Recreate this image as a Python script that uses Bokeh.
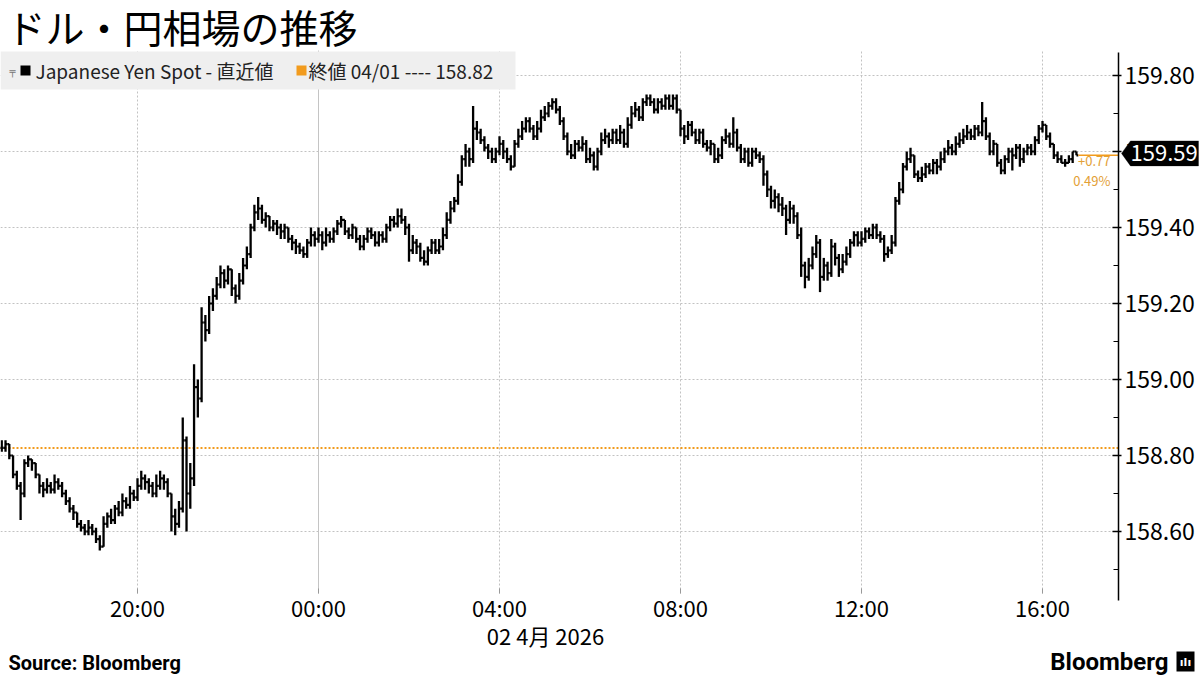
import pandas as pd
from bokeh.plotting import figure
from bokeh.models import (Range1d, Label, BoxAnnotation, PolyAnnotation,
                          FixedTicker, SingleIntervalTicker, NumeralTickFormatter)
from bokeh.embed import file_html
from bokeh.resources import INLINE

# ---------------- data ----------------
title_text = "ドル・円相場の推移"
series_name = "Japanese Yen Spot - 直近値"
prev_close_label = "終値 04/01 ---- 158.82"
prev_close = 158.82
change_label = "+0.77"
change_pct_label = "0.49%"
bar_start = "2026-04-01 17:00"
bar_freq = "5min"

close = [
    158.82, 158.83, 158.80, 158.75, 158.72, 158.70, 158.78, 158.79, 158.78, 158.75, 158.72, 158.71,
    158.72, 158.71, 158.73, 158.72, 158.70, 158.68, 158.66, 158.65, 158.62, 158.61, 158.60, 158.61,
    158.60, 158.58, 158.56, 158.62, 158.64, 158.63, 158.66, 158.65, 158.68, 158.67, 158.70, 158.69,
    158.72, 158.74, 158.73, 158.72, 158.70, 158.72, 158.74, 158.73, 158.70, 158.64, 158.62, 158.66,
    158.84, 158.70, 158.74, 158.98, 158.95, 159.15, 159.13, 159.20, 159.22, 159.25, 159.28, 159.26,
    159.29, 159.24, 159.22, 159.26, 159.30, 159.33, 159.40, 159.44, 159.45, 159.42, 159.43, 159.40,
    159.41, 159.40, 159.39, 159.40, 159.37, 159.36, 159.35, 159.34, 159.33, 159.36, 159.38, 159.37,
    159.38, 159.36, 159.38, 159.37, 159.39, 159.41, 159.42, 159.39, 159.38, 159.40, 159.37, 159.35,
    159.37, 159.39, 159.38, 159.36, 159.38, 159.37, 159.40, 159.42, 159.41, 159.43, 159.42, 159.40,
    159.34, 159.36, 159.35, 159.32, 159.31, 159.34, 159.36, 159.34, 159.35, 159.38, 159.42, 159.45,
    159.47, 159.52, 159.58, 159.60, 159.58, 159.66, 159.65, 159.63, 159.61, 159.60, 159.58, 159.60,
    159.62, 159.60, 159.58, 159.56, 159.62, 159.64, 159.66, 159.68, 159.66, 159.64, 159.66, 159.69,
    159.70, 159.72, 159.73, 159.71, 159.68, 159.64, 159.60, 159.59, 159.62, 159.61, 159.62, 159.58,
    159.59, 159.56, 159.60, 159.63, 159.64, 159.63, 159.65, 159.63, 159.65, 159.62, 159.67, 159.70,
    159.71, 159.69, 159.73, 159.74, 159.73, 159.71, 159.73, 159.72, 159.74, 159.72, 159.74, 159.71,
    159.66, 159.64, 159.67, 159.65, 159.63, 159.65, 159.62, 159.61, 159.62, 159.58, 159.59, 159.63,
    159.64, 159.62, 159.65, 159.61, 159.58, 159.60, 159.57, 159.60, 159.59, 159.58, 159.54, 159.50,
    159.47, 159.48, 159.46, 159.45, 159.42, 159.45, 159.43, 159.38, 159.30, 159.27, 159.30, 159.33,
    159.36, 159.27, 159.30, 159.28, 159.35, 159.32, 159.29, 159.31, 159.33, 159.36, 159.38, 159.36,
    159.37, 159.39, 159.38, 159.40, 159.38, 159.37, 159.33, 159.34, 159.36, 159.47, 159.50, 159.56,
    159.58, 159.59, 159.54, 159.53, 159.54, 159.56, 159.55, 159.57, 159.56, 159.58, 159.60, 159.61,
    159.60, 159.62, 159.63, 159.64, 159.65, 159.64, 159.66, 159.65, 159.68, 159.64, 159.60, 159.62,
    159.57, 159.55, 159.58, 159.60, 159.59, 159.61, 159.58, 159.60, 159.61, 159.60, 159.63, 159.66,
    159.67, 159.64, 159.62, 159.59, 159.58, 159.57, 159.57, 159.58, 159.60, 159.59,
]

high = [
    158.84, 158.84, 158.83, 158.80, 158.76, 158.73, 158.79, 158.80, 158.79, 158.78, 158.75, 158.73,
    158.74, 158.73, 158.75, 158.74, 158.73, 158.71, 158.69, 158.67, 158.65, 158.63, 158.62, 158.63,
    158.62, 158.61, 158.59, 158.64, 158.65, 158.66, 158.67, 158.68, 158.70, 158.69, 158.72, 158.71,
    158.74, 158.76, 158.75, 158.74, 158.73, 158.75, 158.76, 158.75, 158.74, 158.70, 158.66, 158.68,
    158.90, 158.85, 158.78, 159.04, 159.00, 159.19, 159.17, 159.22, 159.24, 159.27, 159.30, 159.29,
    159.30, 159.29, 159.25, 159.28, 159.32, 159.35, 159.41, 159.46, 159.48, 159.46, 159.44, 159.43,
    159.42, 159.42, 159.41, 159.41, 159.40, 159.38, 159.37, 159.36, 159.35, 159.37, 159.40, 159.39,
    159.40, 159.39, 159.40, 159.39, 159.40, 159.42, 159.43, 159.42, 159.40, 159.41, 159.40, 159.38,
    159.38, 159.40, 159.40, 159.39, 159.39, 159.39, 159.41, 159.43, 159.43, 159.45, 159.45, 159.43,
    159.41, 159.38, 159.37, 159.36, 159.34, 159.35, 159.37, 159.37, 159.37, 159.40, 159.44, 159.47,
    159.48, 159.54, 159.59, 159.62, 159.61, 159.72, 159.68, 159.66, 159.64, 159.62, 159.61, 159.61,
    159.64, 159.63, 159.61, 159.59, 159.63, 159.66, 159.68, 159.69, 159.69, 159.67, 159.68, 159.71,
    159.72, 159.73, 159.74, 159.74, 159.72, 159.69, 159.65, 159.62, 159.63, 159.63, 159.64, 159.63,
    159.61, 159.60, 159.61, 159.65, 159.66, 159.65, 159.66, 159.66, 159.67, 159.66, 159.69, 159.72,
    159.73, 159.72, 159.74, 159.75, 159.75, 159.74, 159.74, 159.74, 159.75, 159.75, 159.75, 159.75,
    159.71, 159.67, 159.68, 159.68, 159.66, 159.66, 159.66, 159.63, 159.63, 159.62, 159.61, 159.64,
    159.66, 159.65, 159.69, 159.66, 159.62, 159.61, 159.61, 159.61, 159.61, 159.60, 159.59, 159.55,
    159.51, 159.50, 159.49, 159.48, 159.46, 159.47, 159.46, 159.44, 159.40, 159.31, 159.32, 159.35,
    159.38, 159.37, 159.32, 159.31, 159.37, 159.36, 159.33, 159.33, 159.35, 159.37, 159.39, 159.39,
    159.39, 159.40, 159.40, 159.41, 159.41, 159.39, 159.38, 159.35, 159.38, 159.48, 159.52, 159.57,
    159.60, 159.61, 159.59, 159.55, 159.56, 159.57, 159.57, 159.58, 159.58, 159.60, 159.61, 159.63,
    159.62, 159.64, 159.65, 159.66, 159.67, 159.66, 159.67, 159.67, 159.73, 159.69, 159.65, 159.63,
    159.62, 159.58, 159.59, 159.61, 159.61, 159.62, 159.62, 159.61, 159.62, 159.62, 159.64, 159.67,
    159.68, 159.67, 159.65, 159.62, 159.60, 159.59, 159.58, 159.59, 159.60, 159.60,
]

low = [
    158.81, 158.81, 158.79, 158.74, 158.71, 158.63, 158.69, 158.77, 158.76, 158.74, 158.70, 158.69,
    158.70, 158.70, 158.70, 158.71, 158.69, 158.67, 158.65, 158.63, 158.61, 158.60, 158.59, 158.59,
    158.59, 158.57, 158.55, 158.56, 158.61, 158.62, 158.62, 158.64, 158.64, 158.66, 158.66, 158.68,
    158.68, 158.71, 158.71, 158.70, 158.69, 158.69, 158.71, 158.71, 158.69, 158.60, 158.59, 158.61,
    158.65, 158.60, 158.66, 158.72, 158.90, 158.94, 159.10, 159.12, 159.18, 159.21, 159.24, 159.24,
    159.25, 159.22, 159.20, 159.21, 159.25, 159.29, 159.32, 159.39, 159.42, 159.41, 159.40, 159.39,
    159.39, 159.38, 159.37, 159.37, 159.36, 159.34, 159.33, 159.33, 159.32, 159.32, 159.35, 159.35,
    159.36, 159.34, 159.35, 159.36, 159.36, 159.38, 159.40, 159.38, 159.37, 159.37, 159.36, 159.34,
    159.34, 159.36, 159.37, 159.35, 159.35, 159.36, 159.36, 159.39, 159.40, 159.40, 159.41, 159.38,
    159.31, 159.33, 159.33, 159.31, 159.30, 159.30, 159.33, 159.33, 159.33, 159.34, 159.37, 159.41,
    159.44, 159.46, 159.51, 159.56, 159.56, 159.57, 159.63, 159.62, 159.60, 159.58, 159.57, 159.57,
    159.59, 159.58, 159.57, 159.55, 159.56, 159.61, 159.63, 159.65, 159.65, 159.63, 159.63, 159.65,
    159.68, 159.69, 159.71, 159.70, 159.67, 159.63, 159.59, 159.58, 159.58, 159.60, 159.60, 159.57,
    159.57, 159.55, 159.55, 159.59, 159.62, 159.61, 159.62, 159.62, 159.62, 159.61, 159.61, 159.66,
    159.69, 159.68, 159.68, 159.72, 159.72, 159.70, 159.70, 159.71, 159.71, 159.71, 159.71, 159.70,
    159.64, 159.62, 159.63, 159.64, 159.62, 159.62, 159.61, 159.60, 159.59, 159.57, 159.57, 159.58,
    159.62, 159.61, 159.61, 159.60, 159.57, 159.57, 159.56, 159.56, 159.58, 159.57, 159.51, 159.48,
    159.45, 159.45, 159.44, 159.43, 159.38, 159.41, 159.41, 159.37, 159.27, 159.24, 159.26, 159.29,
    159.32, 159.23, 159.26, 159.26, 159.27, 159.30, 159.27, 159.28, 159.30, 159.32, 159.35, 159.35,
    159.35, 159.36, 159.37, 159.37, 159.37, 159.36, 159.31, 159.32, 159.33, 159.35, 159.46, 159.49,
    159.55, 159.57, 159.53, 159.52, 159.52, 159.53, 159.54, 159.54, 159.54, 159.55, 159.57, 159.59,
    159.59, 159.59, 159.61, 159.62, 159.63, 159.63, 159.63, 159.64, 159.64, 159.63, 159.59, 159.59,
    159.56, 159.54, 159.54, 159.57, 159.55, 159.58, 159.56, 159.57, 159.59, 159.59, 159.59, 159.62,
    159.65, 159.63, 159.61, 159.58, 159.57, 159.57, 159.56, 159.57, 159.57, 159.59,
]

y_ticks = [158.60, 158.80, 159.00, 159.20, 159.40, 159.60, 159.80]
x_tick_times = ["2026-04-01 20:00", "2026-04-02 00:00", "2026-04-02 04:00",
                "2026-04-02 08:00", "2026-04-02 12:00", "2026-04-02 16:00"]
x_tick_labels = ["20:00", "00:00", "04:00", "08:00", "12:00", "16:00"]
day_break = "2026-04-02 00:00"
date_label = "02 4月 2026"
source_text = "Source: Bloomberg"
brand_text = "Bloomberg"

# ---------------- layout / styling ----------------
W, H = 1200, 675
ORANGE = "#f29b1d"
ORANGE_TXT = "#e3a035"
GRID = "#c2c2c2"
FONT = "Noto Sans CJK JP"

PX_PER_HOUR = 45.25          # horizontal scale of the reference
PX_PER_YEN = 380.0           # vertical scale of the reference
REF_T, REF_TX = pd.Timestamp("2026-04-01 20:00"), 137   # 20:00 sits at x=137
REF_V, REF_VY = 159.80, 75                               # 159.80 sits at y=75
AREA_TOP, AREA_BOTTOM, AXIS_X = 50, 593, 1118


def t_at(px):
    return REF_T + pd.Timedelta(hours=(px - REF_TX) / PX_PER_HOUR)


def v_at(py):
    return REF_V - (py - REF_VY) / PX_PER_YEN


def ms(t):
    return pd.Timestamp(t).value // 10**6


def sx(px):
    return px


def sy(py):
    return H - py


x_start, x_end, x_axis = t_at(0), t_at(W), t_at(AXIS_X)
v_top, v_bottom = v_at(AREA_TOP), v_at(AREA_BOTTOM)

times = pd.date_range(bar_start, periods=len(close), freq=bar_freq)
opens = [prev_close] + close[:-1]
half = pd.Timedelta(bar_freq) / 2

p = figure(width=W, height=H, x_axis_type="datetime", y_axis_location="right",
           x_range=Range1d(x_start, x_end), y_range=Range1d(v_at(H), v_at(0)),
           output_backend="svg", toolbar_location=None, title=None,
           min_border=0, min_border_left=0, min_border_right=0,
           min_border_top=0, min_border_bottom=0)
p.outline_line_color = None
p.background_fill_color = "white"
p.border_fill_color = "white"
p.xgrid.visible = False
p.ygrid.visible = False

# ---- x axis (fixed at the bottom of the plotting area)
tick_ms = [ms(t) for t in x_tick_times]
xa = p.xaxis[0]
xa.fixed_location = v_bottom
xa.bounds = (ms(x_start), ms(x_axis))
xa.ticker = FixedTicker(ticks=tick_ms)
xa.major_label_overrides = {float(m): lab for m, lab in zip(tick_ms, x_tick_labels)}
xa.axis_line_color = None
xa.major_tick_in = 5
xa.major_tick_out = 0
xa.major_tick_line_color = "#999999"
xa.minor_tick_line_color = None
xa.major_label_standoff = -3
xa.major_label_text_font = FONT
xa.major_label_text_font_size = "22px"
xa.major_label_text_color = "black"

# ---- y axis (fixed at the right edge of the plotting area)
ya = p.yaxis[0]
ya.fixed_location = ms(x_axis)
ya.bounds = (v_at(600), v_at(52))
ya.ticker = SingleIntervalTicker(interval=0.2, num_minor_ticks=2)
ya.formatter = NumeralTickFormatter(format="0.00")
ya.axis_line_color = "black"
ya.axis_line_width = 1.5
ya.major_tick_in = 6
ya.major_tick_out = 3
ya.minor_tick_in = 5
ya.minor_tick_out = 0
ya.major_tick_line_width = 1.5
ya.major_label_standoff = 3
ya.major_label_text_font = FONT
ya.major_label_text_font_size = "23px"
ya.major_label_text_color = "black"

# ---- legend band (under the grid)
p.add_layout(BoxAnnotation(left=sx(0), right=sx(515), top=sy(51), bottom=sy(89),
                           left_units="screen", right_units="screen",
                           top_units="screen", bottom_units="screen",
                           fill_color="#efefef", fill_alpha=1, line_color=None,
                           level="underlay"))

# ---- grid lines, limited to the plotting area
for v in y_ticks:
    p.segment(x0=[x_start], y0=[v], x1=[x_axis], y1=[v], line_color=GRID,
              line_width=1, line_dash="2 2", level="underlay")
for t in x_tick_times:
    if t == day_break:
        continue
    p.segment(x0=[pd.Timestamp(t)], y0=[v_bottom], x1=[pd.Timestamp(t)], y1=[v_top],
              line_color=GRID, line_width=1, line_dash="2 2", level="underlay")
p.segment(x0=[pd.Timestamp(day_break)], y0=[v_bottom], x1=[pd.Timestamp(day_break)],
          y1=[v_top], line_color="#c4c4c4", line_width=1, level="underlay")

# previous close
p.segment(x0=[x_start], y0=[prev_close], x1=[x_axis], y1=[prev_close],
          line_color=ORANGE, line_width=2, line_dash="2 2")

# ---- OHLC bars
p.segment(x0=times, y0=low, x1=times, y1=high, line_color="black", line_width=2.3)
p.segment(x0=times - half, y0=opens, x1=times, y1=opens, line_color="black", line_width=2.2)
p.segment(x0=times, y0=close, x1=times + half, y1=close, line_color="black", line_width=2.2)

# last price guide line and change texts
last = close[-1]
p.segment(x0=[times[-1] + half], y0=[last], x1=[x_axis], y1=[last],
          line_color=ORANGE, line_width=1.5)
p.add_layout(Label(x=sx(1110), y=last - 0.014, x_units="screen", y_units="data",
                   text=change_label, text_align="right", text_baseline="middle",
                   text_font=FONT, text_font_size="13px", text_color=ORANGE_TXT))
p.add_layout(Label(x=sx(1110), y=last - 0.066, x_units="screen", y_units="data",
                   text=change_pct_label, text_align="right", text_baseline="middle",
                   text_font=FONT, text_font_size="13px", text_color=ORANGE_TXT))

# last value badge on the axis
bh = 12.5 / PX_PER_YEN
bc = last + 0.005
p.add_layout(PolyAnnotation(xs=[sx(1121), sx(1130), sx(1198), sx(1198), sx(1130)],
                            ys=[bc, bc + bh, bc + bh, bc - bh, bc - bh],
                            xs_units="screen", ys_units="data",
                            fill_color="black", fill_alpha=1, line_color="black"))
p.add_layout(Label(x=sx(1130), y=bc, x_units="screen", y_units="data",
                   text=f"{last:.2f}", text_baseline="middle",
                   text_font=FONT, text_font_size="22px", text_color="white"))

# ---- title
p.add_layout(Label(x=sx(6), y=sy(25), x_units="screen", y_units="screen",
                   text=title_text, text_baseline="middle",
                   text_font=FONT, text_font_size="39px", text_color="black"))

# ---- legend items
p.add_layout(BoxAnnotation(left=sx(20), right=sx(30), top=sy(65), bottom=sy(75),
                           left_units="screen", right_units="screen",
                           top_units="screen", bottom_units="screen",
                           fill_color="black", fill_alpha=1, line_color=None))
p.add_layout(BoxAnnotation(left=sx(296), right=sx(306), top=sy(65), bottom=sy(75),
                           left_units="screen", right_units="screen",
                           top_units="screen", bottom_units="screen",
                           fill_color=ORANGE, fill_alpha=1, line_color=None))
p.add_layout(Label(x=sx(9), y=sy(71), x_units="screen", y_units="screen",
                   text="╤", text_baseline="middle",
                   text_font="DejaVu Sans", text_font_size="10px", text_color="#777777"))
p.add_layout(Label(x=sx(35), y=sy(70), x_units="screen", y_units="screen",
                   text=series_name, text_baseline="middle",
                   text_font=FONT, text_font_size="19px", text_color="#222222"))
p.add_layout(Label(x=sx(308), y=sy(70), x_units="screen", y_units="screen",
                   text=prev_close_label, text_baseline="middle",
                   text_font=FONT, text_font_size="19px", text_color="#222222"))

# ---- date under the time axis
p.add_layout(Label(x=sx(545), y=sy(634), x_units="screen", y_units="screen",
                   text=date_label, text_align="center", text_baseline="middle",
                   text_font=FONT, text_font_size="22px", text_color="black"))

# ---- footer
p.add_layout(Label(x=sx(8), y=sy(662), x_units="screen", y_units="screen",
                   text=source_text, text_baseline="middle",
                   text_font="Roboto", text_font_style="bold",
                   text_font_size="20px", text_color="black"))
p.add_layout(Label(x=sx(1168), y=sy(661), x_units="screen", y_units="screen",
                   text=brand_text, text_align="right", text_baseline="middle",
                   text_font="Roboto", text_font_style="bold",
                   text_font_size="24px", text_color="black"))
p.add_layout(BoxAnnotation(left=sx(1176), right=sx(1194), top=sy(651), bottom=sy(671),
                           left_units="screen", right_units="screen",
                           top_units="screen", bottom_units="screen",
                           fill_color="black", fill_alpha=1, line_color=None))
p.add_layout(Label(x=sx(1185), y=sy(662), x_units="screen", y_units="screen",
                   text="ılı", text_align="center", text_baseline="middle",
                   text_font="DejaVu Sans", text_font_style="bold",
                   text_font_size="11px", text_color="white"))

open("out.html", "w").write(file_html(p, INLINE))
